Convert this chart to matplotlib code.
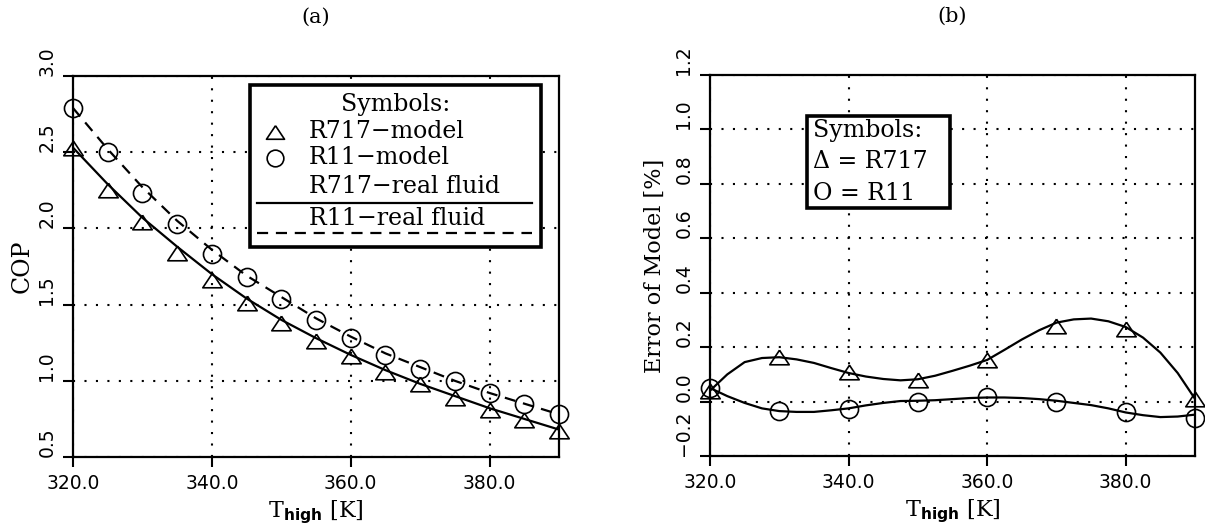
import matplotlib
matplotlib.use('Agg')
import matplotlib.pyplot as plt
from matplotlib.patches import Rectangle
from matplotlib.lines import Line2D

# ---------------- data ----------------
t_cop = [320, 325, 330, 335, 340, 345, 350, 355, 360, 365, 370, 375, 380, 385, 390]
cop_r717_model = [2.53, 2.25, 2.04, 1.84, 1.66, 1.51, 1.38, 1.26, 1.16, 1.06, 0.98, 0.89, 0.81, 0.74, 0.67]
cop_r11_model = [2.79, 2.50, 2.23, 2.03, 1.83, 1.68, 1.54, 1.40, 1.28, 1.17, 1.08, 1.00, 0.92, 0.85, 0.78]
cop_r717_real = [2.53, 2.29, 2.07, 1.88, 1.70, 1.54, 1.40, 1.28, 1.17, 1.07, 0.98, 0.90, 0.82, 0.75, 0.68]
cop_r11_real = [2.79, 2.52, 2.27, 2.05, 1.86, 1.69, 1.55, 1.41, 1.29, 1.18, 1.09, 1.00, 0.92, 0.85, 0.78]

t_err = [320, 330, 340, 350, 360, 370, 380, 390]
err_r717 = [0.04, 0.163, 0.108, 0.08, 0.153, 0.277, 0.266, 0.01]
err_r11 = [0.05, -0.033, -0.026, 0.0, 0.015, 0.0, -0.04, -0.06]

t_fit = [320, 322.5, 325, 327.5, 330, 332.5, 335, 337.5, 340, 342.5, 345, 347.5, 350, 352.5, 355,
         357.5, 360, 362.5, 365, 367.5, 370, 372.5, 375, 377.5, 380, 382.5, 385, 387.5, 390]
err_r717_fit = [0.04, 0.10, 0.145, 0.16, 0.163, 0.155, 0.142, 0.123, 0.105, 0.092, 0.083, 0.078, 0.082,
                0.095, 0.113, 0.132, 0.153, 0.19, 0.228, 0.262, 0.29, 0.302, 0.305, 0.295, 0.274,
                0.235, 0.18, 0.105, 0.01]
err_r11_fit = [0.05, 0.02, -0.005, -0.025, -0.035, -0.038, -0.038, -0.032, -0.025, -0.014, -0.005,
               0.002, 0.003, 0.005, 0.009, 0.013, 0.015, 0.015, 0.013, 0.009, 0.003, -0.005, -0.013,
               -0.025, -0.04, -0.05, -0.057, -0.055, -0.048]

xticks = [320, 340, 360, 380]
xticklabels = ['320.0', '340.0', '360.0', '380.0']
yticks_a = [0.5, 1.0, 1.5, 2.0, 2.5, 3.0]
yticklabels_a = ['0.5', '1.0', '1.5', '2.0', '2.5', '3.0']
yticks_b = [-0.2, 0.0, 0.2, 0.4, 0.6, 0.8, 1.0, 1.2]
yticklabels_b = ['\u22120.2', '0.0', '0.2', '0.4', '0.6', '0.8', '1.0', '1.2']

legend_a_title = 'Symbols:'
legend_a_labels = ['R717\u2212model', 'R11\u2212model', 'R717\u2212real fluid', 'R11\u2212real fluid']
legend_b_lines = ['Symbols:', '\u0394 = R717', 'O = R11']

# ---------------- style ----------------
plt.rcParams['font.family'] = ['DejaVu Serif']
plt.rcParams['mathtext.fontset'] = 'custom'
plt.rcParams['mathtext.rm'] = 'DejaVu Serif'
plt.rcParams['mathtext.it'] = 'DejaVu Serif:italic'
plt.rcParams['mathtext.bf'] = 'DejaVu Sans:bold'

TICKFONT = dict(family='DejaVu Sans', size=13.5)
LABELSIZE = 16
LEGSIZE = 17
tri = [(0, 0.75), (-1, -0.75), (1, -0.75), (0, 0.75)]

fig = plt.figure(figsize=(12.05, 5.28), dpi=100)
ax1 = fig.add_axes([73 / 1205, 1 - 457 / 528, 486 / 1205, 381 / 528])
ax2 = fig.add_axes([710 / 1205, 1 - 456 / 528, 485 / 1205, 381 / 528])


def style_axes(ax, ylim, yticks, yticklabels):
    ax.set_xlim(320, 390)
    ax.set_ylim(*ylim)
    ax.set_xticks(xticks)
    ax.set_xticklabels(xticklabels, fontdict=TICKFONT)
    ax.set_yticks(yticks)
    ax.set_yticklabels(yticklabels, fontdict=TICKFONT, rotation=90, va='bottom')
    ax.tick_params(direction='out', length=7, width=1.5, pad=5)
    for s in ax.spines.values():
        s.set_linewidth(1.6)
    ax.grid(True, color='black', linestyle=(0, (1, 4.5)), linewidth=1.5)
    ax.set_axisbelow(True)


# ---------------- panel (a) ----------------
style_axes(ax1, (0.5, 3.0), yticks_a, yticklabels_a)
ax1.plot(t_cop, cop_r717_real, color='black', lw=1.6, zorder=3)
ax1.plot(t_cop, cop_r11_real, color='black', lw=1.6, linestyle=(0, (5, 3.5)), zorder=3)
ax1.plot(t_cop, cop_r717_model, ls='none', marker=tri, ms=14, mfc='none', mec='black', mew=1.2,
         zorder=4, clip_on=False)
ax1.plot(t_cop, cop_r11_model, ls='none', marker='o', ms=13, mfc='none', mec='black', mew=1.2,
         zorder=4, clip_on=False)
ax1.set_ylabel('COP', fontsize=LABELSIZE + 1)
ax1.yaxis.label.set_va('center')
ax1.yaxis.set_label_coords(-0.105, 0.5)
ax1.set_xlabel(r'T$_{\mathbf{high}}$ [K]', fontsize=LABELSIZE)
ax1.xaxis.label.set_va('center')
ax1.xaxis.set_label_coords(0.5, -0.145)
ax1.set_title('(a)', fontsize=15, pad=38)

# legend (a)
ax1.add_patch(Rectangle((0.364, 0.551), 0.599, 0.425, transform=ax1.transAxes, facecolor='white',
                        edgecolor='black', lw=2.6, zorder=5, clip_on=False))
ax1.text(0.663, 0.925, legend_a_title, transform=ax1.transAxes, ha='center', va='center',
         fontsize=LEGSIZE, zorder=6)
ax1.plot([0.416], [0.853], transform=ax1.transAxes, ls='none', marker=tri, ms=13, mfc='none',
         mec='black', mew=1.2, zorder=6, clip_on=False)
ax1.plot([0.416], [0.785], transform=ax1.transAxes, ls='none', marker='o', ms=12, mfc='none',
         mec='black', mew=1.2, zorder=6, clip_on=False)
for lab, fy in zip(legend_a_labels, [0.855, 0.785, 0.709, 0.627]):
    ax1.text(0.486, fy, lab, transform=ax1.transAxes, ha='left', va='center',
             fontsize=LEGSIZE, zorder=6)
ax1.add_line(Line2D([0.379, 0.944], [0.667, 0.667], transform=ax1.transAxes, color='black',
                    lw=1.6, zorder=6))
ax1.add_line(Line2D([0.379, 0.944], [0.588, 0.588], transform=ax1.transAxes, color='black',
                    lw=1.6, linestyle=(0, (5, 3.5)), zorder=6))

# ---------------- panel (b) ----------------
style_axes(ax2, (-0.2, 1.2), yticks_b, yticklabels_b)
ax2.plot(t_fit, err_r717_fit, color='black', lw=1.6, zorder=3)
ax2.plot(t_fit, err_r11_fit, color='black', lw=1.6, zorder=3)
ax2.plot(t_err, err_r717, ls='none', marker=tri, ms=14, mfc='none', mec='black', mew=1.2,
         zorder=4, clip_on=False)
ax2.plot(t_err, err_r11, ls='none', marker='o', ms=13, mfc='none', mec='black', mew=1.2,
         zorder=4, clip_on=False)
ax2.set_ylabel('Error of Model [%]', fontsize=LABELSIZE)
ax2.yaxis.label.set_va('center')
ax2.yaxis.set_label_coords(-0.113, 0.5)
ax2.set_xlabel(r'T$_{\mathbf{high}}$ [K]', fontsize=LABELSIZE)
ax2.xaxis.label.set_va('center')
ax2.xaxis.set_label_coords(0.5, -0.145)
ax2.set_title('(b)', fontsize=15, pad=38)

# legend (b)
ax2.add_patch(Rectangle((0.2, 0.651), 0.295, 0.241, transform=ax2.transAxes, facecolor='white',
                        edgecolor='black', lw=2.6, zorder=5, clip_on=False))
for txt, fy in zip(legend_b_lines, [0.855, 0.772, 0.69]):
    ax2.text(0.212, fy, txt, transform=ax2.transAxes, ha='left', va='center',
             fontsize=LEGSIZE, zorder=6)

fig.savefig('out.png', dpi=100)
